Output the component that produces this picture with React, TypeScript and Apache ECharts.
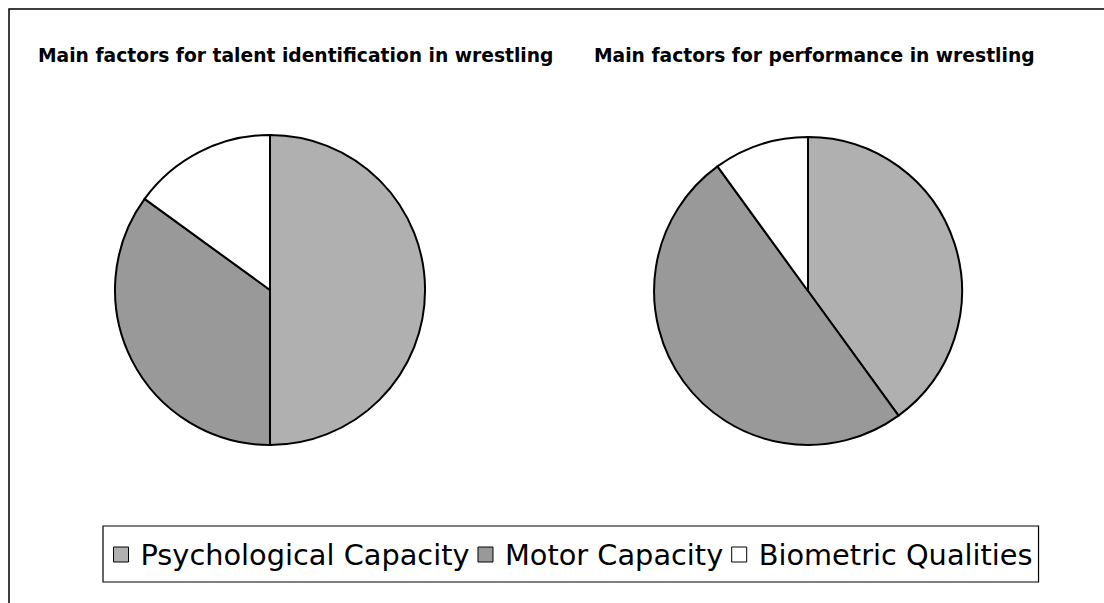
import React, { useEffect, useRef } from "react";
import * as echarts from "echarts";

const categories = ["Psychological Capacity", "Motor Capacity", "Biometric Qualities"];
const talentValues = [50, 35, 15];
const performanceValues = [40, 50, 10];
const chartTitles = [
  "Main factors for talent identification in wrestling",
  "Main factors for performance in wrestling",
];
const sliceColors = ["#b0b0b0", "#999999", "#ffffff"];

export default function App() {
  const ref = useRef<HTMLDivElement>(null);
  useEffect(() => {
    if (!ref.current) return;
    const chart = echarts.init(ref.current, null, { renderer: "svg" });
    const titleStyle = {
      fontFamily: "DejaVu Sans",
      fontWeight: "bold" as const,
      fontSize: 18.7,
      color: "#000",
    };
    const makeData = (vals: number[]) =>
      vals.map((v, i) => ({
        name: categories[i],
        value: v,
        itemStyle: { color: sliceColors[i] },
      }));
    const pieBase = {
      type: "pie" as const,
      startAngle: 90,
      clockwise: true,
      label: { show: false },
      labelLine: { show: false },
      emphasis: { disabled: true },
      itemStyle: { borderColor: "#000", borderWidth: 2 },
    };
    chart.setOption({
      animation: false,
      backgroundColor: "#fff",
      title: [
        { text: chartTitles[0], left: 38, top: 46, padding: 0, textStyle: titleStyle },
        { text: chartTitles[1], left: 594, top: 46, padding: 0, textStyle: titleStyle },
      ],
      legend: {
        data: categories,
        left: 103,
        top: 526,
        orient: "horizontal",
        padding: [14, 6, 13, 10],
        borderColor: "#000",
        borderWidth: 1.2,
        itemWidth: 15,
        itemHeight: 15,
        itemGap: 8,
        icon: "rect",
        selectedMode: false,
        itemStyle: { borderColor: "#000", borderWidth: 1 },
        textStyle: {
          fontFamily: "DejaVu Sans",
          fontSize: 28.8,
          color: "#000",
          padding: [0, 0, 0, 7],
        },
      },
      graphic: [
        {
          type: "polyline",
          shape: { points: [[9, 700], [9, 9], [1200, 9]] },
          style: { stroke: "#000", lineWidth: 1.5, fill: "none" },
          silent: true,
        },
      ],
      series: [
        { ...pieBase, name: chartTitles[0], center: [270, 290], radius: 155, data: makeData(talentValues) },
        { ...pieBase, name: chartTitles[1], center: [808, 291], radius: 154, data: makeData(performanceValues) },
      ],
    });
    return () => chart.dispose();
  }, []);
  return (
    <div
      ref={ref}
      style={{ position: "fixed", left: 0, top: 0, width: 1104, height: 603, background: "#fff" }}
    />
  );
}
